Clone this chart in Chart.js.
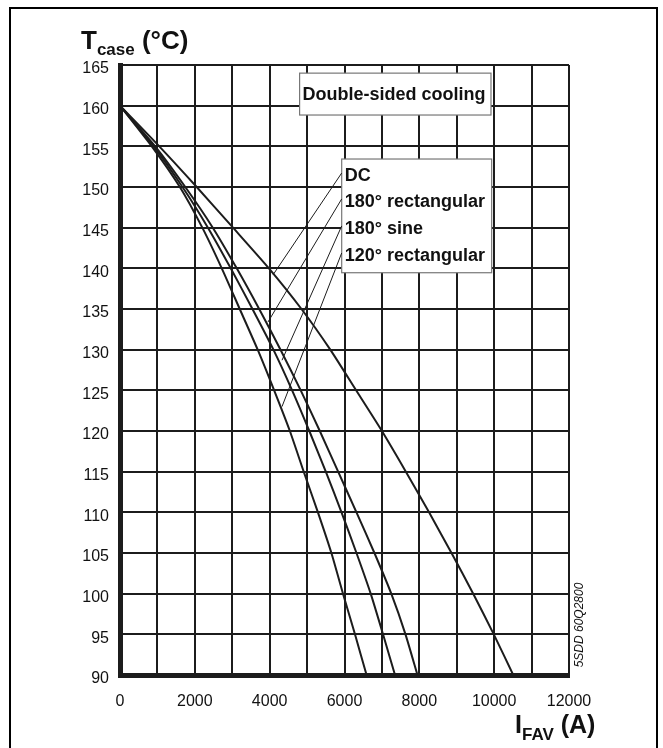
<!DOCTYPE html>
<html>
<head>
<meta charset="utf-8">
<script src="https://cdn.jsdelivr.net/npm/chart.js@4.4.0/dist/chart.umd.min.js"></script>
<style>
  html, body { margin: 0; padding: 0; background: #fff; }
  #wrap { width: 663px; height: 748px; }
</style>
</head>
<body>
<div id="wrap"><canvas id="chart" width="663" height="748"></canvas></div>
<script>
// case temperature levels (°C) at which the curves were read
const tempLevels = [160, 155, 150, 145, 140, 135, 130, 125, 120, 115, 110, 105, 100, 95, 90];

// average on-state current (A) at each temperature level
const dcCurrent      = [0, 1050, 2050, 3020, 3980, 4850, 5620, 6310, 7000, 7640, 8260, 8860, 9440, 9990, 10510];
const rect180Current = [0, 940, 1745, 2480, 3120, 3720, 4290, 4830, 5340, 5830, 6320, 6800, 7250, 7630, 7950];
const sine180Current = [0, 900, 1670, 2350, 2960, 3540, 4100, 4600, 5060, 5500, 5920, 6320, 6700, 7030, 7350];
const rect120Current = [0, 850, 1600, 2200, 2720, 3200, 3680, 4120, 4540, 4910, 5290, 5650, 5960, 6280, 6590];

const seriesNames = ["DC", "180° rectangular", "180° sine", "120° rectangular"];
const xTickLabels = ["0", "2000", "4000", "6000", "8000", "10000", "12000"];
const yTickLabels = ["90", "95", "100", "105", "110", "115", "120", "125", "130", "135", "140", "145", "150", "155", "160", "165"];

const FONT = '"Liberation Sans", Arial, sans-serif';
const INK = "#1c1c1c";

function toPoints(currents) {
  return tempLevels.map((t, i) => ({ x: currents[i], y: t }));
}

// where each leader line touches its curve (A, °C)
const leaderEnds = [
  { x: 4090, y: 139.2 },
  { x: 3955, y: 133.4 },
  { x: 4330, y: 128.7 },
  { x: 4330, y: 123.0 },
];

const annotations = {
  id: "annotations",
  afterDatasetsDraw(chart) {
    const { ctx } = chart;
    const xs = chart.scales.x;
    const ys = chart.scales.y;
    const px = (v) => xs.getPixelForValue(v);
    const py = (v) => ys.getPixelForValue(v);

    ctx.save();

    // "Double-sided cooling" box
    let l = px(4800), r = px(9915), t = py(164.0), b = py(158.85);
    ctx.fillStyle = "#fff";
    ctx.fillRect(l, t, r - l, b - t);
    ctx.strokeStyle = "#777";
    ctx.lineWidth = 1.2;
    ctx.strokeRect(l, t, r - l, b - t);
    ctx.fillStyle = "#111";
    ctx.font = "bold 18px " + FONT;
    ctx.textBaseline = "middle";
    ctx.textAlign = "left";
    ctx.fillText("Double-sided cooling", l + 3, (t + b) / 2 + 1);

    // legend box with the four wave forms
    l = px(5925); r = px(9933); t = py(153.44); b = py(139.46);
    ctx.fillStyle = "#fff";
    ctx.fillRect(l, t, r - l, b - t);
    ctx.strokeStyle = "#777";
    ctx.strokeRect(l, t, r - l, b - t);

    const rowTemps = [151.35, 148.16, 144.84, 141.52];
    ctx.fillStyle = "#111";
    seriesNames.forEach((name, i) => {
      ctx.fillText(name, l + 3, py(rowTemps[i]));
    });

    // leader lines from the labels to the curves
    ctx.strokeStyle = INK;
    ctx.lineWidth = 1;
    leaderEnds.forEach((end, i) => {
      ctx.beginPath();
      ctx.moveTo(l, py(rowTemps[i]) - 3);
      ctx.lineTo(px(end.x), py(end.y));
      ctx.stroke();
    });

    ctx.restore();
  },
  afterDraw(chart) {
    const { ctx } = chart;
    ctx.save();

    // outer frame
    ctx.strokeStyle = "#000";
    ctx.lineWidth = 2;
    ctx.strokeRect(10, 8, 647, 800);

    ctx.fillStyle = "#111";
    ctx.textBaseline = "alphabetic";
    ctx.textAlign = "left";

    // y axis title: T_case (°C)
    let x = 81;
    ctx.font = "bold 26px " + FONT;
    ctx.fillText("T", x, 49);
    x += ctx.measureText("T").width;
    ctx.font = "bold 17px " + FONT;
    ctx.fillText("case", x, 55);
    x += ctx.measureText("case").width;
    ctx.font = "bold 26px " + FONT;
    ctx.fillText(" (°C)", x, 49);

    // x axis title: I_FAV (A)
    x = 515;
    ctx.font = "bold 25px " + FONT;
    ctx.fillText("I", x, 733);
    x += ctx.measureText("I").width;
    ctx.font = "bold 17px " + FONT;
    ctx.fillText("FAV", x, 740);
    x += ctx.measureText("FAV").width;
    ctx.font = "bold 25px " + FONT;
    ctx.fillText(" (A)", x, 733);

    // drawing number, vertical
    ctx.translate(580, 625);
    ctx.rotate(-Math.PI / 2);
    ctx.font = "italic 12px " + FONT;
    ctx.textAlign = "center";
    ctx.textBaseline = "middle";
    ctx.fillText("5SDD 60Q2800", 0, 0);

    ctx.restore();
  },
};

const lineStyle = {
  showLine: true,
  borderColor: INK,
  borderWidth: 2,
  pointRadius: 0,
  tension: 0.2,
  fill: false,
};

new Chart(document.getElementById("chart"), {
  type: "scatter",
  data: {
    datasets: [
      { label: seriesNames[0], data: toPoints(dcCurrent), ...lineStyle },
      { label: seriesNames[1], data: toPoints(rect180Current), ...lineStyle },
      { label: seriesNames[2], data: toPoints(sine180Current), ...lineStyle },
      { label: seriesNames[3], data: toPoints(rect120Current), ...lineStyle },
    ],
  },
  options: {
    responsive: false,
    animation: false,
    devicePixelRatio: 1,
    layout: { padding: { left: 0, right: 94, top: 65, bottom: 0 } },
    plugins: {
      legend: { display: false },
      tooltip: { enabled: false },
    },
    scales: {
      x: {
        type: "linear",
        min: 0,
        max: 12000,
        afterFit: (s) => { s.height = 73; },
        ticks: {
          stepSize: 1000,
          autoSkip: false,
          maxRotation: 0,
          padding: 17,
          color: "#111",
          font: { family: FONT, size: 16 },
          callback: (v) => (xTickLabels.includes(String(v)) ? String(v) : ""),
        },
        grid: { color: INK, lineWidth: 2, drawTicks: false },
        border: { color: INK, width: 5 },
      },
      y: {
        type: "linear",
        min: 90,
        max: 165,
        afterFit: (s) => { s.width = 120; },
        ticks: {
          stepSize: 5,
          padding: 11,
          labelOffset: 4,
          color: "#111",
          font: { family: FONT, size: 16 },
          callback: (v) => (yTickLabels.includes(String(v)) ? String(v) : ""),
        },
        grid: { color: INK, lineWidth: 2, drawTicks: false },
        border: { color: INK, width: 5 },
      },
    },
  },
  plugins: [annotations],
});
</script>
</body>
</html>
